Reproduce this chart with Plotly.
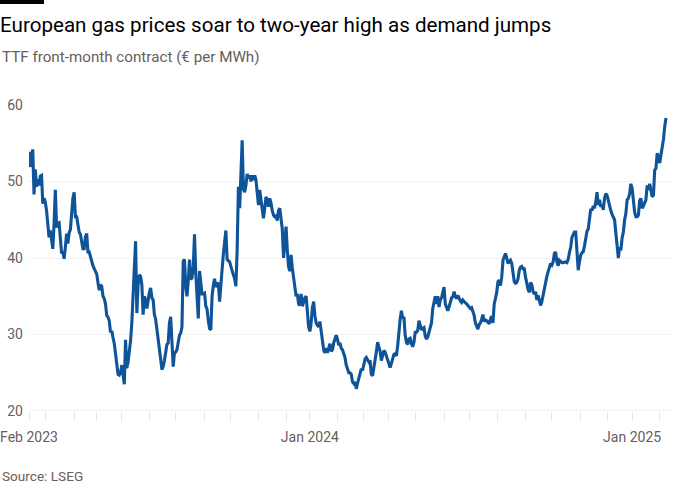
import pandas as pd
import plotly.graph_objects as go

TITLE = "European gas prices soar to two-year high as demand jumps"
SUBTITLE = "TTF front-month contract (€ per MWh)"
SOURCE = "Source: LSEG"

START_DATE = "2023-02-10"
END_DATE = "2025-02-10"
AXIS_END = "2025-02-14"
HOLIDAYS = ["2023-04-07", "2023-04-10", "2023-05-01", "2023-05-08", "2023-05-29",
            "2023-12-25", "2023-12-26", "2024-01-01", "2024-03-29", "2024-04-01",
            "2024-12-25", "2024-12-26", "2025-01-01"]

# TTF front-month settlement, one value per trading day
PRICES = [
    53.9, 51.9, 53.0, 54.2, 48.3, 51.6, 49.3, 50.3, 49.5, 50.7, 50.8, 47.1, 47.8,
    47.3, 46.2, 44.5, 42.7, 43.6, 42.4, 41.2, 44.5, 48.9, 44.0, 44.5, 44.6, 43.0, 40.6, 40.8, 39.9,
    41.4, 43.2, 41.9, 43.3, 43.7, 46.0, 47.8,
    48.6, 45.4, 45.4, 44.5, 43.4, 43.1, 42.0, 41.2, 41.2, 42.8, 43.2, 40.8, 40.8, 40.1, 39.5, 39.0,
    38.6, 38.3,
    37.9, 36.8, 35.8, 36.5, 36.3, 35.0, 34.7, 34.0, 32.5, 32.3, 31.8, 30.3, 30.5, 29.6, 28.8, 27.5,
    25.8, 24.8, 24.7, 25.0,
    26.0, 24.9, 23.5, 29.3, 25.6, 26.4, 27.8, 29.2, 31.5, 35.5, 40.0, 42.2, 32.8, 36.5, 37.8, 37.6,
    36.5, 32.6, 35.0, 34.5, 33.4, 34.8,
    35.5, 36.1, 34.8, 34.5, 32.6, 32.0, 30.5, 28.9, 27.5, 26.8, 25.4, 25.8, 26.6, 27.8, 28.7, 28.9,
    31.5, 32.3, 28.8, 25.8, 27.6,
    27.7, 28.0, 29.2, 29.9, 30.2, 31.0, 39.6, 39.8, 36.2, 35.0, 37.0, 39.8, 37.2, 37.4, 38.9, 43.1,
    38.0, 34.5, 32.1, 38.3, 36.3, 35.3, 35.3,
    35.4, 33.7, 33.3, 31.8, 30.8, 30.6, 35.0, 36.4, 37.3, 36.2, 36.6, 36.8, 34.3, 37.0, 38.5, 40.5,
    42.5, 43.6, 39.8, 39.7, 39.5,
    38.9, 38.2, 37.8, 37.3, 36.3, 41.0, 49.3, 46.5, 51.0, 55.4, 49.0, 48.6, 49.5, 51.0, 50.4, 50.8,
    50.0, 50.8, 50.2, 50.8, 50.2, 48.4,
    46.9, 48.9, 47.5, 46.0, 45.2, 46.5, 48.0, 47.6, 46.7, 47.8, 47.2, 46.2, 45.6, 45.4, 45.5, 44.9,
    46.2, 46.5, 45.2, 43.8, 40.0, 42.5,
    44.1, 41.0, 38.9, 38.3, 40.4, 38.7, 37.5, 35.9, 35.0, 35.3, 34.0, 33.8, 35.3, 33.7, 34.5, 34.8,
    35.0, 32.5, 31.0,
    30.4, 31.5, 33.5, 34.3, 32.5, 31.5, 31.2, 31.0, 31.7, 30.5, 29.4, 28.0, 27.6, 28.2, 27.6, 28.2,
    28.8, 27.8, 28.0, 28.9, 29.6, 29.9,
    29.4, 28.6, 28.9, 28.2, 28.0, 27.5, 27.0, 26.0, 25.5, 25.0, 25.0, 24.8, 23.8, 23.6, 23.8, 22.9,
    23.6, 24.3, 24.6, 25.5, 25.3,
    26.0, 26.8, 27.0, 26.6, 26.4, 26.6, 24.8, 24.6, 25.5, 26.5, 27.7, 29.0, 28.5, 27.8, 26.6, 27.5,
    27.9, 27.7, 27.2, 26.5,
    25.9, 25.7, 26.2, 26.8, 27.4, 27.5, 27.2, 28.5, 30.5, 32.0, 33.1, 32.1, 32.3, 29.9, 29.0, 28.7,
    29.4, 29.5, 28.8, 28.4, 29.0,
    30.3, 30.3, 30.5, 31.8, 31.0, 30.6, 30.8, 30.9, 29.8, 29.4, 29.7, 30.2, 30.8, 31.5, 33.4, 34.5,
    35.0, 34.0, 35.0, 33.6, 34.5, 34.8, 35.5,
    36.2, 34.0, 33.4, 33.1, 33.6, 34.2, 34.8, 34.9, 35.6, 35.0, 34.7, 35.1, 34.6, 34.4, 34.2, 34.5,
    34.3, 34.2, 34.0, 33.8,
    33.5, 33.4, 33.5, 33.1, 32.5, 31.5, 31.0, 30.7, 31.3, 31.5, 32.0, 32.6, 31.7, 31.9, 31.8, 31.5,
    31.4, 32.0, 32.4, 31.5, 34.0, 34.7, 35.5,
    36.9, 37.1, 36.4, 37.5, 39.7, 40.3, 40.6, 40.0, 39.3, 39.5, 39.7, 39.3, 38.0, 36.9, 36.7, 36.8,
    37.3, 38.4, 38.8, 38.9, 38.6, 38.6,
    37.5, 36.5, 35.9, 35.5, 36.8, 36.5, 35.6, 35.3, 35.6, 34.5, 35.1, 34.5, 33.8, 34.3, 35.2, 35.8,
    37.2, 37.6, 38.2, 38.9, 39.3,
    39.1, 39.5, 40.6, 40.8, 39.5, 39.0, 39.7, 39.5, 39.4, 39.4, 39.5, 39.5, 39.4, 39.8, 40.7, 41.4,
    42.7, 43.2, 43.4, 43.4, 41.0, 38.4, 39.5,
    40.4, 40.7, 40.8, 41.6, 42.5, 43.5, 43.8, 44.8, 46.4, 46.2, 46.8, 46.5, 47.3, 48.6, 46.9, 47.6,
    46.7, 46.9, 46.3, 47.8, 48.4,
    48.2, 47.4, 46.5, 46.2, 45.7, 45.4, 45.0, 43.3, 41.8, 40.0, 41.4, 41.0, 42.6, 43.4, 45.0, 45.8,
    47.6, 47.8, 48.4, 49.7,
    49.1, 47.1, 46.0, 45.4, 45.4, 45.6, 47.5, 47.8, 46.5, 46.8, 47.3, 47.6, 49.5, 48.9, 49.7, 49.0,
    48.0, 48.2, 51.5, 51.7, 53.7, 53.2,
    52.4, 53.5, 54.3, 55.5, 57.2, 58.3,
]

Y_TICKS = [20, 30, 40, 50, 60]
LABELLED_MONTHS = {"2023-02": "Feb 2023", "2024-01": "Jan 2024", "2025-01": "Jan 2025"}

dates = pd.bdate_range(START_DATE, END_DATE, freq="C", holidays=HOLIDAYS)
n = min(len(dates), len(PRICES))
dates = dates[:n]
prices = PRICES[:n]

s = pd.Series(dates)
month_first = s.groupby(s.dt.to_period("M")).first()
tickvals = list(month_first.values)
ticktext = [LABELLED_MONTHS.get(str(p), "") for p in month_first.index]

FONT = "Roboto"
GREY = "#66605c"

fig = go.Figure()
fig.add_trace(go.Scatter(
    x=dates, y=prices, mode="lines",
    line=dict(color="#0f5499", width=3.1),
    hoverinfo="skip",
))

L, R, T, B = 29, 29, 105, 89
W, H = 700, 500
pw, ph = W - L - R, H - T - B

def px_x(x):
    return (x - L) / pw

def px_y(y):
    return (H - B - y) / ph

fig.update_layout(
    width=W, height=H,
    margin=dict(l=L, r=R, t=T, b=B, autoexpand=False),
    paper_bgcolor="white", plot_bgcolor="white",
    showlegend=False,
    font=dict(family=FONT, color=GREY, size=14),
    title=dict(text=TITLE, x=0, xref="container", xanchor="left",
               y=1 - 25 / H, yref="container", yanchor="middle",
               font=dict(family=FONT, size=20.6, color="#000000")),
    xaxis=dict(
        type="date", automargin=False,
        range=[dates[0], AXIS_END],
        rangebreaks=[dict(bounds=["sat", "mon"]), dict(values=HOLIDAYS)],
        tickmode="array", tickvals=tickvals, ticktext=ticktext,
        ticks="outside", ticklen=9, tickcolor="#e6e6e6", tickwidth=1,
        ticklabelstandoff=4,
        showgrid=False, showline=False, zeroline=False,
        tickfont=dict(family=FONT, size=14, color=GREY),
    ),
    yaxis=dict(
        range=[20, 60], tickvals=Y_TICKS, automargin=False,
        showgrid=True, gridcolor="#f2f2f2", gridwidth=1,
        zeroline=False, showline=False, ticks="",
        ticklabelstandoff=5,
        tickfont=dict(family=FONT, size=14, color=GREY),
    ),
    shapes=[
        dict(type="rect", xref="paper", yref="paper",
             x0=px_x(0), x1=px_x(44), y0=px_y(4), y1=px_y(0),
             fillcolor="#000000", line=dict(width=0)),
        dict(type="line", xref="paper", yref="y", x0=0, x1=1, y0=20, y1=20,
             line=dict(color="#e8e8e8", width=1), layer="below"),
    ],
    annotations=[
        dict(text=SUBTITLE, xref="paper", yref="paper", x=px_x(0), y=px_y(57),
             xanchor="left", yanchor="middle", showarrow=False,
             font=dict(family=FONT, size=15.2, color=GREY)),
        dict(text=SOURCE, xref="paper", yref="paper", x=px_x(0), y=px_y(476),
             xanchor="left", yanchor="middle", showarrow=False,
             font=dict(family=FONT, size=13.6, color=GREY)),
    ],
)

fig.write_html(
    "out.html",
    config={"displayModeBar": False, "staticPlot": True},
    post_script="document.body.style.margin='0';document.body.style.overflow='hidden';",
)
